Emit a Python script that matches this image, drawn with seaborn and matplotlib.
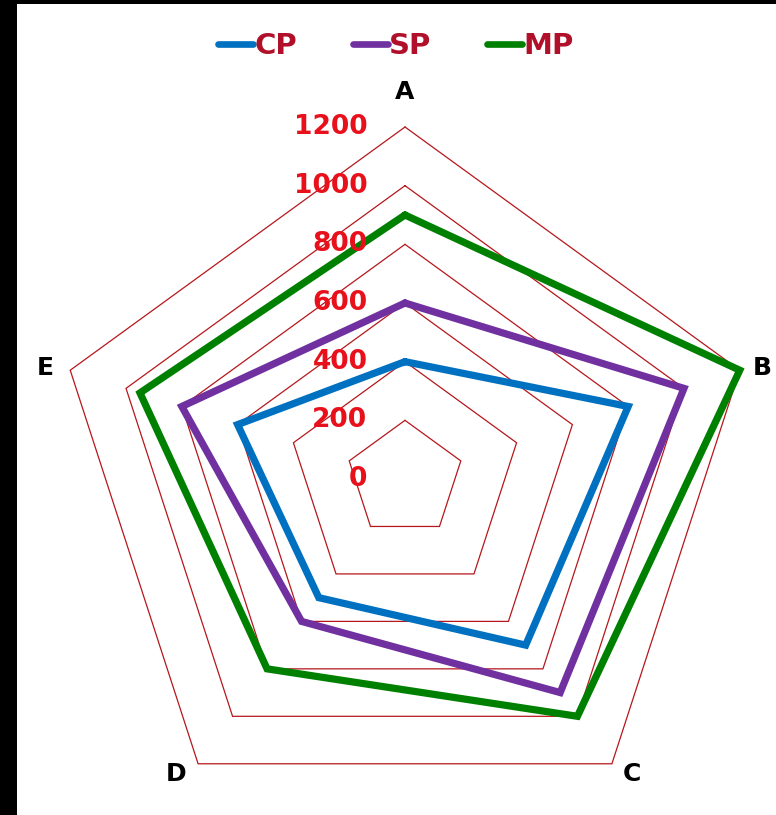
import numpy as np
import pandas as pd
import seaborn as sns
import matplotlib.pyplot as plt
from matplotlib.lines import Line2D
from matplotlib.patches import Rectangle

# data
categories = ['A', 'B', 'C', 'D', 'E']
series_names = ['CP', 'SP', 'MP']
cp = [400, 800, 700, 500, 600]
sp = [600, 1000, 900, 600, 800]
mp = [900, 1200, 1000, 800, 950]
rings = [0, 200, 400, 600, 800, 1000, 1200]

colors = {'CP': '#0070c0', 'SP': '#7030a0', 'MP': '#008000'}
grid_color = '#b5171c'

sns.set_theme(style='white')
plt.rcParams['font.family'] = ['DejaVu Sans']

angles = np.linspace(0, 2 * np.pi, len(categories), endpoint=False)
closed = np.append(angles, 2 * np.pi)

rows = []
for name, vals in zip(series_names, [cp, sp, mp]):
    for a, v in zip(closed, vals + vals[:1]):
        rows.append({'angle': a, 'value': v, 'series': name})
df = pd.DataFrame(rows)

fig = plt.figure(figsize=(7.76, 8.15), dpi=100, facecolor='black')
fig.patches.append(Rectangle((17 / 776, 0), 1 - 17 / 776, 1 - 4 / 815,
                             transform=fig.transFigure, facecolor='white',
                             edgecolor='none', zorder=-5))

ax = fig.add_axes([53 / 776, (336 - 352) / 815, 704 / 776, 704 / 815], projection='polar')
ax.set_theta_offset(np.pi / 2)
ax.set_theta_direction(-1)
ax.set_facecolor('none')
ax.grid(False)
ax.spines['polar'].set_visible(False)

# pentagon gridlines
for r in rings[1:]:
    ax.plot(closed, [r] * len(closed), color=grid_color, lw=0.9, zorder=1, clip_on=False)

sns.lineplot(data=df, x='angle', y='value', hue='series', palette=colors,
             sort=False, estimator=None, lw=5.2, ax=ax, legend=False, zorder=3)
for line in ax.lines:
    line.set_clip_on(False)
    line.set_solid_joinstyle('miter')

ax.set_ylim(0, 1200)
ax.set_xticks([])
ax.set_yticks([])
ax.set_xlabel('')
ax.set_ylabel('')

# radial value labels
for r in rings:
    ax.annotate(str(r), xy=(0, r), xytext=(-27, 0), textcoords='offset points',
                ha='right', va='center', color='#e8101a', fontsize=19,
                fontweight='bold', annotation_clip=False, zorder=5)

# category labels, nudged outward from the outer vertices
label_offsets = [(0, 35), (22, 2), (20, -10), (-22, -10), (-25, 2)]
for a, cat, off in zip(angles, categories, label_offsets):
    ax.annotate(cat, xy=(a, rings[-1]), xytext=off, textcoords='offset pixels',
                ha='center', va='center', fontsize=18, fontweight='bold',
                color='black', annotation_clip=False)

handles = [Line2D([], [], color=colors[n], lw=4.8, solid_capstyle='round') for n in series_names]
fig.legend(handles, series_names, loc='center', bbox_to_anchor=(396 / 776, 1 - 46 / 815),
           ncol=3, frameon=False, handlelength=1.2, handletextpad=0.05,
           columnspacing=1.9, labelcolor='#b0102a',
           prop={'weight': 'bold', 'size': 21})

fig.savefig('out.png', dpi=100, facecolor=fig.get_facecolor())
